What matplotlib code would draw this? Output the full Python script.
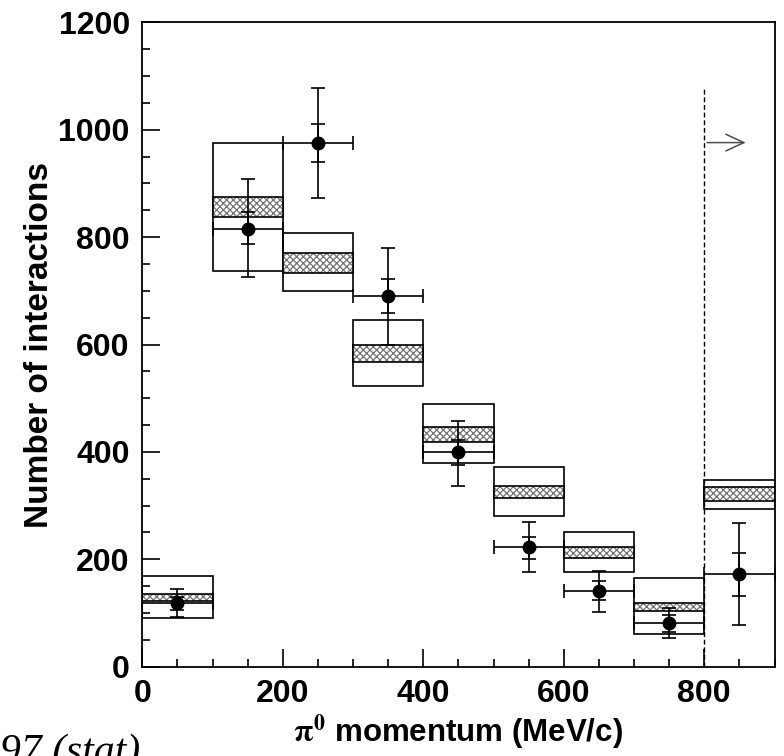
import numpy as np
import matplotlib
matplotlib.use("Agg")
from matplotlib import pyplot as plt
from matplotlib.ticker import MultipleLocator

#   Bin edges of the pi0 momentum (MeV/c)
edges = np.array([0, 100, 200, 300, 400, 500, 600, 700, 800, 900])

#   MC prediction: systematic box and hatched band
mc_hi = [169, 976, 807, 645, 490, 371, 250, 165, 348]
mc_lo = [91, 737, 700, 523, 379, 280, 176, 60, 293]
band_hi = [135, 875, 771, 600, 446, 336, 222, 118, 334]
band_lo = [122, 838, 733, 568, 419, 314, 203, 104, 309]

#   Data points with total (outer) and statistical (inner) errors
data = [118, 816, 976, 691, 399, 222, 141, 82, 173]
tot_hi = [144, 908, 1078, 780, 458, 270, 178, 110, 267]
tot_lo = [92, 726, 872, 599, 337, 176, 101, 54, 78]
stat_hi = [130, 847, 1010, 722, 423, 242, 160, 97, 212]
stat_lo = [106, 787, 939, 659, 376, 200, 124, 65, 132]

#   Overflow cut and arrow
cut = 800
cut_top = 1078
arrow_y = 976
arrow_end = 863

plt.rcParams['font.family'] = ['Liberation Sans', 'DejaVu Sans']
plt.rcParams['font.weight'] = 'bold'
plt.rcParams['mathtext.fontset'] = 'stix'
plt.rcParams['hatch.linewidth'] = 0.9

fig = plt.figure(figsize=(7.84, 7.56), dpi=100)
ax = fig.add_axes([0.1815, 0.1181, 0.8064, 0.8524])

centers = (edges[:-1] + edges[1:]) / 2.0
width = np.diff(edges)
mc_hi = np.array(mc_hi); mc_lo = np.array(mc_lo)
band_hi = np.array(band_hi); band_lo = np.array(band_lo)
data = np.array(data)

#   MC boxes
ax.bar(centers, mc_hi - mc_lo, bottom=mc_lo, width=width, fill=False,
       edgecolor='black', linewidth=1.2, zorder=2)
ax.bar(centers, band_hi - band_lo, bottom=band_lo, width=width,
       facecolor='white', edgecolor='0.45', hatch='xxxxx', linewidth=0, zorder=2)
ax.bar(centers, band_hi - band_lo, bottom=band_lo, width=width, fill=False,
       edgecolor='black', linewidth=1.2, zorder=3)

#   Data
ax.errorbar(centers, data, xerr=width / 2.0,
            yerr=[data - np.array(tot_lo), np.array(tot_hi) - data],
            fmt='o', color='black', markersize=9, elinewidth=1.2,
            capsize=4.8, capthick=1.2, zorder=5)
ax.errorbar(centers, data,
            yerr=[data - np.array(stat_lo), np.array(stat_hi) - data],
            fmt='none', ecolor='black', elinewidth=1.2,
            capsize=4.8, capthick=1.2, zorder=5)

#   Cut line and arrow
ax.vlines(cut, 0, cut_top, colors='black', linestyles=(0, (3.5, 2)), linewidth=1.0)
ax.annotate('', xy=(arrow_end, arrow_y), xytext=(cut, arrow_y),
            arrowprops=dict(arrowstyle='->,head_length=1.3,head_width=0.6',
                            color='0.3', linewidth=1.1))

ax.set_xlim(0, 900)
ax.set_ylim(0, 1200)
ax.xaxis.set_major_locator(MultipleLocator(200))
ax.xaxis.set_minor_locator(MultipleLocator(50))
ax.yaxis.set_major_locator(MultipleLocator(200))
ax.yaxis.set_minor_locator(MultipleLocator(50))
ax.tick_params(which='both', direction='in', top=False, right=False,
               labelsize=23, width=1.2)
ax.tick_params(which='major', length=13, pad=9)
ax.tick_params(which='minor', length=6)
for s in ax.spines.values():
    s.set_linewidth(1.3)

ax.set_ylabel('Number of interactions', fontsize=24, fontweight='bold', va='center')
ax.yaxis.set_label_coords(-0.163, 0.5)
ax.set_xlabel(r'$\mathrm{\pi}^{0}$ momentum (MeV/c)', fontsize=22.5,
              fontweight='bold', va='center')
ax.xaxis.set_label_coords(0.5, -0.101)

#   fragment of the page below the figure
fig.text(0.0, 1 - 733 / 756.0, '97 (stat)', fontsize=30, va='top', ha='left',
         family='Liberation Serif', style='italic', weight='normal')

fig.savefig('out.png', dpi=100)
